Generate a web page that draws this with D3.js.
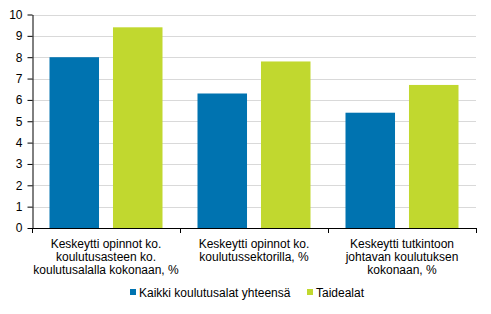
<!DOCTYPE html>
<html>
<head>
<meta charset="utf-8">
<script src="https://d3js.org/d3.v7.min.js"></script>
<style>
  body { margin: 0; background: #fff; }
  svg { display: block; font-family: "Liberation Sans", Arial, sans-serif; }
  .grid line { stroke: #d9d9d9; stroke-width: 1; }
  .axis text { font-size: 12px; fill: #000; }
  .axis path, .axis line { stroke: #000; }
</style>
</head>
<body>
<svg id="chart" width="491" height="314"></svg>
<script>
  // data
  const categories = [
    ["Keskeytti opinnot ko.", "koulutusasteen ko.", "koulutusalalla kokonaan, %"],
    ["Keskeytti opinnot ko.", "koulutussektorilla, %"],
    ["Keskeytti tutkintoon", "johtavan koulutuksen", "kokonaan, %"]
  ];
  const seriesNames = ["Kaikki koulutusalat yhteensä", "Taidealat"];
  const kaikki = [8.0, 6.3, 5.4];
  const taide = [9.4, 7.8, 6.7];
  const yTicks = [0, 1, 2, 3, 4, 5, 6, 7, 8, 9, 10];
  const colors = ["#0073b0", "#c1d82f"];

  const svg = d3.select("#chart");
  const plotLeft = 32, plotRight = 476, plotTop = 14.5, plotBottom = 228;

  const x = d3.scaleBand().domain(d3.range(categories.length)).range([plotLeft, plotRight]).padding(0);
  const inner = d3.scaleBand().domain(d3.range(seriesNames.length))
    .range([17.5, x.bandwidth() - 17.5]).paddingInner(0.22);
  const y = d3.scaleLinear().domain([0, 10]).range([plotBottom, plotTop]);

  // gridlines
  svg.append("g").attr("class", "grid")
    .selectAll("line").data(yTicks.filter(d => d > 0)).join("line")
    .attr("x1", plotLeft).attr("x2", plotRight)
    .attr("y1", d => Math.round(y(d)) + 0.5).attr("y2", d => Math.round(y(d)) + 0.5);

  // bars
  const series = [kaikki, taide];
  series.forEach((vals, s) => {
    svg.append("g").selectAll("rect").data(vals).join("rect")
      .attr("x", (d, i) => x(i) + inner(s))
      .attr("width", inner.bandwidth())
      .attr("y", d => y(d))
      .attr("height", d => y(0) - y(d))
      .attr("fill", colors[s]);
  });

  // y axis
  svg.append("g").attr("class", "axis")
    .attr("transform", `translate(${plotLeft + 0.5},0)`)
    .call(d3.axisLeft(y).tickValues(yTicks).tickSize(5).tickSizeOuter(0).tickPadding(5));

  // x axis with ticks at band edges
  const xg = svg.append("g").attr("class", "axis");
  xg.append("line").attr("x1", plotLeft).attr("x2", plotRight + 0.5)
    .attr("y1", plotBottom + 0.5).attr("y2", plotBottom + 0.5).attr("stroke", "#000");
  xg.selectAll("line.tk").data(d3.range(categories.length + 1)).join("line")
    .attr("class", "tk")
    .attr("x1", i => Math.round(plotLeft + i * x.bandwidth()) + 0.5)
    .attr("x2", i => Math.round(plotLeft + i * x.bandwidth()) + 0.5)
    .attr("y1", plotBottom).attr("y2", plotBottom + 5).attr("stroke", "#000");

  // category labels
  categories.forEach((lines, i) => {
    const t = xg.append("text")
      .attr("x", x(i) + x.bandwidth() / 2)
      .attr("y", 248)
      .attr("text-anchor", "middle");
    lines.forEach((ln, k) => {
      t.append("tspan").attr("x", x(i) + x.bandwidth() / 2).attr("dy", k === 0 ? 0 : 13).text(ln);
    });
  });

  // legend
  const legendX = [130, 307];
  const lg = svg.append("g").attr("class", "axis");
  seriesNames.forEach((name, s) => {
    lg.append("rect").attr("x", legendX[s]).attr("y", 289).attr("width", 6).attr("height", 6)
      .attr("fill", colors[s]);
    lg.append("text").attr("x", legendX[s] + 9).attr("y", 297).text(name);
  });
</script>
</body>
</html>
